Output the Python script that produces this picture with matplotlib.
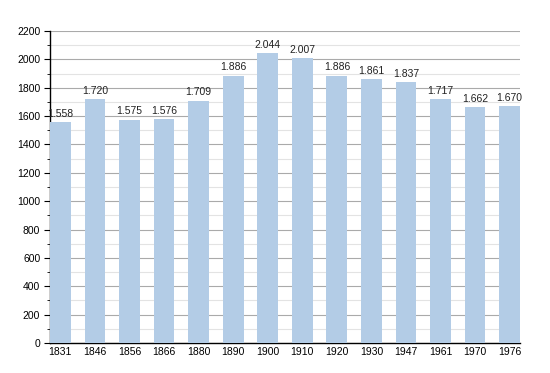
import matplotlib
matplotlib.use("Agg")
import matplotlib.pyplot as plt
from matplotlib.ticker import MultipleLocator

years = ["1831", "1846", "1856", "1866", "1880", "1890", "1900", "1910", "1920", "1930", "1947", "1961", "1970", "1976"]
population = [1558, 1720, 1575, 1576, 1709, 1886, 2044, 2007, 1886, 1861, 1837, 1717, 1662, 1670]
labels = ["1.558", "1.720", "1.575", "1.576", "1.709", "1.886", "2.044", "2.007", "1.886", "1.861", "1.837", "1.717", "1.662", "1.670"]

plt.rcParams['font.family'] = ['Liberation Sans', 'DejaVu Sans']
fig = plt.figure(figsize=(5.5, 3.73), dpi=100)
ax = fig.add_axes([50/550, 30/373, 470/550, 312/373])

x = list(range(len(years)))
w = 0.6
ax.bar(x, population, width=w, color="#b3cce6", zorder=3)
for xi, v, lab in zip(x, population, labels):
    ax.text(xi, v + 25, lab, ha="center", va="bottom", fontsize=7.5, color="#222222", zorder=4)

ax.set_xlim(-w/2, len(years) - 1 + w/2)
ax.set_ylim(0, 2200)
ax.yaxis.set_major_locator(MultipleLocator(200))
ax.yaxis.set_minor_locator(MultipleLocator(100))
ax.grid(axis="y", which="major", color="#aaaaaa", linewidth=0.8, zorder=1)
ax.grid(axis="y", which="minor", color="#e3e3e3", linewidth=0.8, zorder=1)
ax.set_xticks(x)
ax.set_xticklabels(years)
ax.tick_params(axis="x", length=0, labelsize=7.5, pad=3)
ax.tick_params(axis="y", which="major", length=4, labelsize=7.5, pad=3)
ax.tick_params(axis="y", which="minor", length=2)
for s in ["top", "right"]:
    ax.spines[s].set_visible(False)
ax.spines["left"].set_linewidth(1.0)
ax.spines["bottom"].set_linewidth(1.0)

fig.savefig("out.png", dpi=100)
